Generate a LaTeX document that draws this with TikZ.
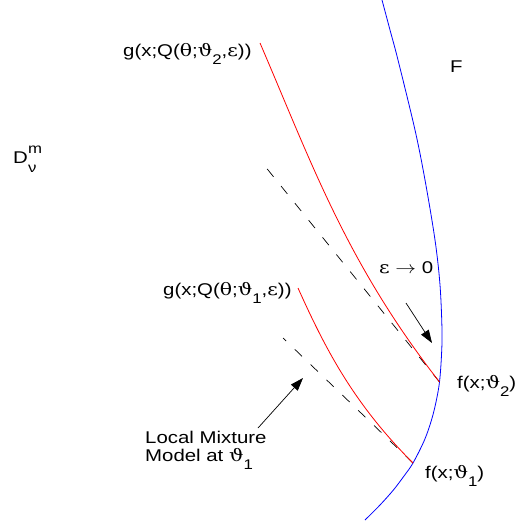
\documentclass[tikz,border=0pt]{standalone}
\usepackage{fontspec}
\setmainfont{Liberation Sans}
\newfontfamily\gk{DejaVu Serif}
\usetikzlibrary{arrows.meta}
\newcommand\st[1]{\scalebox{1.2}[1]{#1}}
\newcommand\sbs[1]{\raisebox{-8pt}{\fontsize{14}{14}\selectfont #1}}
\newcommand\gth{{\gk θ}}
\newcommand\gvt{{\gk ϑ}}
\newcommand\gep{{\gk ε}}
\begin{document}
\begin{tikzpicture}[x=1pt,y=-1pt,
  lbl/.style={inner sep=0pt, anchor=base west, font=\fontsize{17}{18}\selectfont},
  fam/.style={blue, line width=0.8pt},
  mix/.style={red, line width=0.8pt},
  tang/.style={black, line width=0.7pt, dash pattern=on 10pt off 12pt},
  pointer/.style={black, line width=0.7pt, -{Triangle[length=13pt,width=9pt]}}]
\useasboundingbox (0,0) rectangle (516,524);
% family F
\draw[fam] plot[smooth, tension=0.55] coordinates {(382,0) (390,30) (398,60) (415,130) (425,180) (435,240) (440,285) (442,330) (441.5,355) (439.5,382) (436,402) (431.5,420) (424.5,440) (413,463) (404,476) (393.4,490) (380,505) (365,520)};
% tangent points
\coordinate (p2) at (439.5,382);
\coordinate (p1) at (413,463);
\coordinate (t2) at (264,165);
\coordinate (t1) at (283,338);
% dashed local mixture models
\draw[tang] (p2) -- (t2);
\draw[tang] (p1) -- (t1);
% red curves
\draw[mix] (260,43) .. controls (311.6,163) and (346,262) .. (p2);
\draw[mix] (298,288) .. controls (325,348) and (353,403) .. (p1);
% arrows
\coordinate (ea) at (406,303);
\coordinate (eb) at (432,343);
\draw[pointer] (ea) -- (eb);
\coordinate (la) at (258,428);
\coordinate (lb) at (303,378);
\draw[pointer] (la) -- (lb);
% labels
\node[lbl] (g2) at (123,57) {\st{g(x;Q(\gth;\gvt\sbs{2},\gep))}};
\node[lbl] (g1) at (163,295) {\st{g(x;Q(\gth;\gvt\sbs{1},\gep))}};
\node[lbl] (F) at (450,73) {\st{F}};
\node[lbl] (D) at (13,163) {\st{D}};
\node[lbl, font=\fontsize{14}{14}\selectfont] (Dm) at (28,153) {\st{m}};
\node[lbl, font=\fontsize{14}{14}\selectfont] (Dn) at (28,172) {\st{ν}};
\node[lbl] (eps) at (379,273) {\st{\gep\ $\rightarrow$ 0}};
\node[lbl] (f2) at (457,388) {\st{f(x;\gvt\sbs{2})}};
\node[lbl] (f1) at (425,478) {\st{f(x;\gvt\sbs{1})}};
\node[lbl] (lm1) at (145,443) {\st{Local Mixture}};
\node[lbl] (lm2) at (145,461) {\st{Model at \gvt\sbs{1}}};
\end{tikzpicture}
\end{document}
